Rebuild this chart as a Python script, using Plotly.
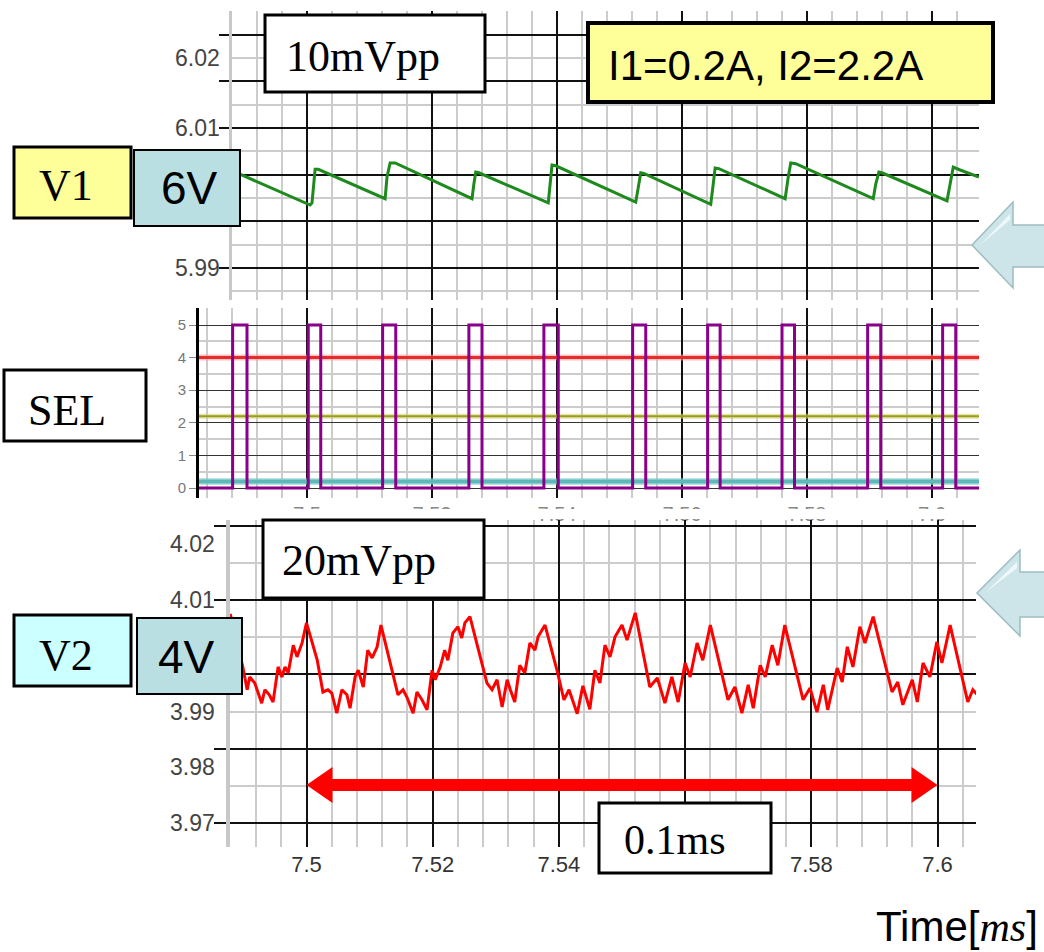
import plotly.graph_objects as go

W, H = 1044, 952

# ---------------- data ----------------
# V1 output voltage (green), time in ms, volts
v1_time = [7.4880, 7.5005, 7.5008, 7.5013, 7.5018, 7.5125, 7.5128, 7.5133, 7.5141,
           7.5264, 7.5267, 7.5270, 7.5275, 7.5386, 7.5389, 7.5392, 7.5398,
           7.5526, 7.5530, 7.5534, 7.5539, 7.5646, 7.5650, 7.5653, 7.5659,
           7.5765, 7.5770, 7.5774, 7.5782, 7.5906, 7.5910, 7.5915, 7.5920,
           7.6024, 7.6029, 7.6034, 7.6045, 7.6075]
v1_volt = [6.0039, 5.9990, 5.9993, 6.0041, 6.0041, 5.9999, 6.0030, 6.0050, 6.0050,
           5.9999, 6.0020, 6.0037, 6.0036, 5.9993, 6.0020, 6.0047, 6.0046,
           5.9994, 6.0015, 6.0036, 6.0035, 5.9991, 6.0020, 6.0043, 6.0042,
           5.9999, 6.0030, 6.0050, 6.0049, 5.9999, 6.0020, 6.0037, 6.0036,
           5.9996, 6.0020, 6.0044, 6.0040, 6.0030]

# SEL pulses (purple): rising / falling edge times in ms
sel_rise = [7.4881, 7.5002, 7.5121, 7.5259, 7.5379, 7.5521, 7.5641, 7.5760, 7.5897, 7.6017]
sel_fall = [7.4904, 7.5022, 7.5142, 7.5280, 7.5402, 7.5542, 7.5661, 7.5780, 7.5918, 7.6038]
sel_low, sel_high = 0, 5
# constant levels in the SEL panel
level_red = 4.0
level_olive = 2.2
level_teal = 0.2

# V2 output voltage (red)
v2_time = [7.4879, 7.4899, 7.4906, 7.4910, 7.4918, 7.4929, 7.4934, 7.4941, 7.4947, 7.4955,
           7.4961, 7.4966, 7.4971, 7.4979, 7.4985, 7.4993, 7.5000, 7.5006, 7.5017, 7.5026,
           7.5034, 7.5040, 7.5048, 7.5056, 7.5064, 7.5069, 7.5077, 7.5082, 7.5090, 7.5097,
           7.5104, 7.5112, 7.5118, 7.5145, 7.5153, 7.5159, 7.5169, 7.5175, 7.5183, 7.5191,
           7.5199, 7.5204, 7.5212, 7.5219, 7.5224, 7.5232, 7.5240, 7.5246, 7.5251, 7.5259,
           7.5286, 7.5294, 7.5302, 7.5310, 7.5318, 7.5323, 7.5330, 7.5338, 7.5346, 7.5354,
           7.5362, 7.5367, 7.5378, 7.5397, 7.5408, 7.5416, 7.5429, 7.5438, 7.5449, 7.5457,
           7.5465, 7.5473, 7.5481, 7.5489, 7.5500, 7.5508, 7.5521, 7.5544, 7.5556, 7.5568,
           7.5579, 7.5589, 7.5600, 7.5608, 7.5619, 7.5628, 7.5640, 7.5668, 7.5679, 7.5690,
           7.5700, 7.5708, 7.5719, 7.5727, 7.5738, 7.5747, 7.5758, 7.5787, 7.5798, 7.5809,
           7.5819, 7.5826, 7.5841, 7.5849, 7.5857, 7.5866, 7.5877, 7.5885, 7.5898, 7.5928,
           7.5937, 7.5945, 7.5960, 7.5968, 7.5977, 7.5988, 7.5999, 7.6007, 7.6020, 7.6048,
           7.6056, 7.6063]
v2_volt = [4.0075, 3.9980, 3.9939, 3.9962, 3.9951, 3.9915, 3.9939, 3.9930, 3.9917, 3.9980,
           3.9962, 3.9980, 3.9969, 4.0019, 3.9998, 4.0023, 4.0059, 4.0034, 3.9992, 3.9935,
           3.9939, 3.9933, 3.9897, 3.9939, 3.9930, 3.9906, 3.9962, 3.9974, 3.9944, 4.0010,
           3.9996, 4.0016, 4.0055, 3.9930, 3.9939, 3.9926, 3.9897, 3.9935, 3.9921, 3.9903,
           3.9974, 3.9957, 3.9980, 4.0010, 3.9992, 4.0041, 4.0052, 4.0032, 4.0059, 4.0070,
           3.9951, 3.9939, 3.9957, 3.9908, 3.9957, 3.9939, 3.9917, 3.9983, 3.9969, 4.0023,
           4.0010, 4.0034, 4.0055, 3.9974, 3.9921, 3.9939, 3.9896, 3.9946, 3.9904, 3.9974,
           3.9951, 4.0019, 3.9998, 4.0034, 4.0055, 4.0028, 4.0077, 3.9944, 3.9960, 3.9915,
           3.9962, 3.9917, 3.9987, 3.9962, 4.0023, 3.9992, 4.0055, 3.9921, 3.9944, 3.9897,
           3.9948, 3.9906, 3.9983, 3.9962, 4.0019, 3.9983, 4.0055, 3.9921, 3.9942, 3.9899,
           3.9948, 3.9903, 3.9978, 3.9953, 4.0016, 3.9980, 4.0052, 4.0023, 4.0070, 3.9935,
           3.9953, 3.9912, 3.9957, 3.9917, 3.9987, 3.9962, 4.0025, 3.9987, 4.0055, 3.9917,
           3.9939, 3.9930]

span_ms = [7.5, 7.6]          # the 0.1 ms double arrow
span_level = 3.9768           # height of that arrow on the V2 axis
v1_tick_labels = [6.02, 6.01, 5.99]
v2_tick_labels = [4.02, 4.01, 3.99, 3.98, 3.97]
hidden_time_label = "7.56"    # covered by the 0.1ms box in the original

# ---------------- axis ranges ----------------
x_top = [7.4880, 7.60752]
x_mid = [7.48272, 7.60752]
x_bot = [7.487876, 7.606101]
y_top = [5.985429, 6.026714]
y_mid = [-0.3067, 5.5215]
y_bot = [3.965695, 4.02435]


def px(x):
    return x / W


def py(y):
    return 1 - y / H


fig = go.Figure()

# --- SEL panel constant levels ---
for lvl, col, halo, w in [(level_teal, "#5fb8b8", "rgba(140,210,210,0.6)", 4),
                          (level_olive, "#9c9c1c", "rgba(210,210,120,0.6)", 2),
                          (level_red, "#e32c2c", "rgba(255,150,150,0.6)", 3)]:
    fig.add_trace(go.Scatter(x=x_mid, y=[lvl, lvl], mode="lines", xaxis="x2", yaxis="y2",
                             line=dict(color=halo, width=w + 3), hoverinfo="skip"))
    fig.add_trace(go.Scatter(x=x_mid, y=[lvl, lvl], mode="lines", xaxis="x2", yaxis="y2",
                             line=dict(color=col, width=w), hoverinfo="skip"))

# --- SEL pulses ---
sel_x = [x_mid[0]]
sel_y = [sel_low]
for r, f in zip(sel_rise, sel_fall):
    sel_x += [r, r, f, f]
    sel_y += [sel_low, sel_high, sel_high, sel_low]
sel_x.append(x_mid[1])
sel_y.append(sel_low)
fig.add_trace(go.Scatter(x=sel_x, y=sel_y, mode="lines", xaxis="x2", yaxis="y2",
                         line=dict(color="#8a008a", width=3)))

# --- V1 ---
fig.add_trace(go.Scatter(x=v1_time, y=v1_volt, mode="lines", xaxis="x", yaxis="y",
                         line=dict(color="#1e8a1e", width=3)))
# --- V2 ---
fig.add_trace(go.Scatter(x=v2_time, y=v2_volt, mode="lines", xaxis="x3", yaxis="y3",
                         line=dict(color="#ff0000", width=3)))

MAJ = "#111111"
MIN = "#cccccc"


def xax(dom, rng, anchor, show_labels, font=None):
    d = dict(domain=dom, range=rng, anchor=anchor, tick0=7.5, dtick=0.02,
             showgrid=True, gridcolor=MAJ, gridwidth=1.5, zeroline=False,
             ticks="", showticklabels=show_labels, tickformat=".2~f",
             minor=dict(tick0=7.5, dtick=0.004, showgrid=True, gridcolor=MIN, gridwidth=2))
    if font:
        d["tickfont"] = font
    return d


layout = dict(
    width=W, height=H, margin=dict(l=0, r=0, t=0, b=0),
    paper_bgcolor="white", plot_bgcolor="white", showlegend=False,
    font=dict(family="Liberation Sans"),
    xaxis=xax([px(232), px(979)], x_top, "y", False),
    yaxis=dict(domain=[py(300), py(11)], range=y_top, anchor="x",
               tick0=5.99, dtick=0.02 / 3, showgrid=True, gridcolor=MAJ, gridwidth=1.5,
               showticklabels=False, ticks="outside", ticklen=10, tickcolor=MAJ, tickwidth=1.5,
               showline=True, linecolor="#c8c8c8", linewidth=3, zeroline=False,
               minor=dict(tick0=5.99, dtick=0.01 / 3, showgrid=True, gridcolor=MIN, gridwidth=2)),
    xaxis2=xax([px(199), px(979)], x_mid, "y2", True,
               dict(size=20, color="#888888")),
    yaxis2=dict(domain=[py(498), py(308)], range=y_mid, anchor="x2",
                tick0=0, dtick=1, showgrid=True, gridcolor="#333333", gridwidth=1,
                ticks="outside", ticklen=7, tickcolor="#888888",
                tickfont=dict(size=15, color="#777777"),
                showline=True, linecolor="#000000", linewidth=3, zeroline=False,
                minor=dict(tick0=0, dtick=0.5, showgrid=True, gridcolor=MIN, gridwidth=2)),
    xaxis3=xax([px(230), px(976)], x_bot, "y3", True, dict(size=22, color="#333333")),
    yaxis3=dict(domain=[py(847), py(520)], range=y_bot, anchor="x3",
                tick0=3.97, dtick=0.04 / 3, showgrid=True, gridcolor=MAJ, gridwidth=1.5,
                showticklabels=False, ticks="outside", ticklen=12, tickcolor=MAJ, tickwidth=1.5,
                showline=True, linecolor="#c8c8c8", linewidth=4, zeroline=False,
                minor=dict(tick0=3.97, dtick=0.02 / 3, showgrid=True, gridcolor=MIN, gridwidth=2)),
)
layout["xaxis2"]["ticklabelstandoff"] = 2
layout["xaxis3"]["ticklabelstandoff"] = 2
layout["xaxis3"]["labelalias"] = {hidden_time_label: " "}
fig.update_layout(**layout)

shapes = []
# white strip that hides the lower half of the SEL time labels
shapes.append(dict(type="rect", xref="paper", yref="paper", x0=px(185), x1=px(1000),
                   y0=py(519), y1=py(509), fillcolor="white", line=dict(width=0), layer="above"))

# 0.1 ms double arrow, built from the span values
hl = 26 / 6310
hh = 18 / 5575
sh = 6 / 5575
a0, a1, ay = span_ms[0], span_ms[1], span_level
pts = [(a0, ay), (a0 + hl, ay + hh), (a0 + hl, ay + sh), (a1 - hl, ay + sh), (a1 - hl, ay + hh),
       (a1, ay), (a1 - hl, ay - hh), (a1 - hl, ay - sh), (a0 + hl, ay - sh), (a0 + hl, ay - hh)]
path = "M " + " L ".join(f"{x},{y}" for x, y in pts) + " Z"
shapes.append(dict(type="path", xref="x3", yref="y3", path=path, fillcolor="#ff0000",
                   line=dict(width=0), layer="above"))

# label boxes (pixel positions)
boxes = [
    (265, 15, 485, 92, "white", 3),
    (588, 23, 993, 102, "#ffff99", 4),
    (14, 147, 131, 218, "#ffff99", 3),
    (134, 150, 240, 226, "#b9dfe3", 2),
    (4, 370, 146, 441, "white", 3),
    (14, 615, 131, 686, "#ccffff", 3),
    (137, 618, 242, 694, "#b9dfe3", 2),
    (263, 520, 484, 598, "white", 3),
    (599, 803, 771, 873, "white", 3),
]
for x0, y0, x1, y1, fc, lw in boxes:
    shapes.append(dict(type="rect", xref="paper", yref="paper", x0=px(x0), x1=px(x1),
                       y0=py(y1), y1=py(y0), fillcolor=fc, line=dict(color="black", width=lw),
                       layer="above"))

# light-blue pointer arrows on the right
for tip, hx, s0, s1 in [((972, 245), 1013, 225, 267), ((977, 593), 1020, 572, 617)]:
    tx, ty = tip
    dh = 43
    poly = [(tx, ty), (hx, ty - dh), (hx, s0), (1050, s0), (1050, s1), (hx, s1), (hx, ty + dh)]
    p = "M " + " L ".join(f"{px(a)},{py(b)}" for a, b in poly) + " Z"
    shapes.append(dict(type="path", xref="paper", yref="paper", path=p, fillcolor="#cde4e8",
                       line=dict(color="#9dbcc2", width=1.5), layer="above"))
    hl_poly = [(tx + 8, ty), (hx - 3, ty - dh + 12), (hx - 3, ty - dh + 18)]
    p2 = "M " + " L ".join(f"{px(a)},{py(b)}" for a, b in hl_poly) + " Z"
    shapes.append(dict(type="path", xref="paper", yref="paper", path=p2, fillcolor="#eef8fa",
                       line=dict(width=0), layer="above"))

fig.update_layout(shapes=shapes)

SERIF = "Liberation Serif"
SANS = "Liberation Sans"
ann = []
texts = [
    ("10mVpp", 363, 56, SERIF, 44, "center"),
    ("I1=0.2A, I2=2.2A", 606, 66, SANS, 42, "left"),
    ("V1", 66, 186, SERIF, 44, "center"),
    ("6V", 189, 188, SANS, 46, "center"),
    ("SEL", 67, 410, SERIF, 44, "center"),
    ("V2", 66, 655, SERIF, 44, "center"),
    ("4V", 186, 657, SANS, 46, "center"),
    ("20mVpp", 359, 560, SERIF, 44, "center"),
    ("0.1ms", 675, 840, SERIF, 42, "center"),
    ("Time[<span style='font-family:Liberation Serif'><i>ms</i></span>]", 1040, 926, SANS, 42, "right"),
]
for t, x, y, fam, size, anc in texts:
    ann.append(dict(text=t, x=px(x), y=py(y), xref="paper", yref="paper", showarrow=False,
                    xanchor=anc, yanchor="middle", font=dict(family=fam, size=size, color="black")))

for v in v1_tick_labels:
    ann.append(dict(text=f"{v:.2f}", x=px(222), y=v, xref="paper", yref="y", showarrow=False,
                    xanchor="right", yanchor="middle", font=dict(family=SANS, size=23, color="#444444")))
for v in v2_tick_labels:
    ann.append(dict(text=f"{v:.2f}", x=px(217), y=v, xref="paper", yref="y3", showarrow=False,
                    xanchor="right", yanchor="middle", font=dict(family=SANS, size=23, color="#444444")))

fig.update_layout(annotations=ann)
fig.write_html("out.html")
